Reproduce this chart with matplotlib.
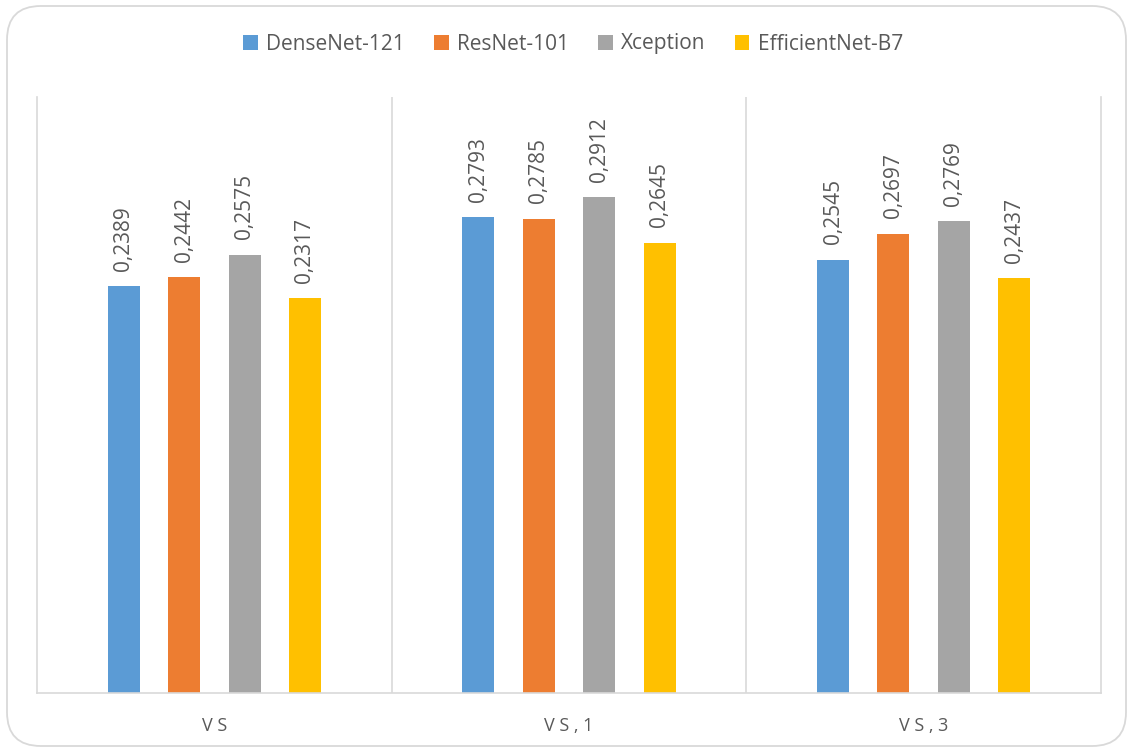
import matplotlib
matplotlib.use("Agg")
import matplotlib.pyplot as plt
import numpy as np
from matplotlib.patches import FancyBboxPatch, Patch

categories = ["V S", "V S , 1", "V S , 3"]
series_names = ["DenseNet-121", "ResNet-101", "Xception", "EfficientNet-B7"]
densenet = [0.2389, 0.2793, 0.2545]
resnet = [0.2442, 0.2785, 0.2697]
xception = [0.2575, 0.2912, 0.2769]
efficientnet = [0.2317, 0.2645, 0.2437]

colors = ["#5B9BD5", "#ED7D31", "#A5A5A5", "#FFC000"]
text_color = "#595959"
line_color = "#D9D9D9"

plt.rcParams["font.family"] = ["Open Sans", "DejaVu Sans"]

W, H = 1128, 749
fig = plt.figure(figsize=(W / 100, H / 100), dpi=100)

# rounded chart-area border
border = FancyBboxPatch((7 / W, 3 / H), (1126 - 7) / W, (743 - 3) / H,
                        boxstyle="round,pad=0,rounding_size=0.03",
                        transform=fig.transFigure, facecolor="none",
                        edgecolor="#D9D9D9", linewidth=1.3,
                        mutation_aspect=W / H, zorder=-1)
fig.patches.append(border)

ax = fig.add_axes([37 / W, (H - 693) / H, (1101 - 37) / W, (693 - 97) / H])
ax.set_facecolor("none")

x = np.arange(len(categories))
step = 0.1704
width = 0.090
all_series = [densenet, resnet, xception, efficientnet]
for i, (vals, col) in enumerate(zip(all_series, colors)):
    pos = x + (i - 1.5) * step
    bars = ax.bar(pos, vals, width=width, color=col, zorder=2)
    for b, v in zip(bars, vals):
        ax.annotate(f"{v:.4f}".replace(".", ","),
                    (b.get_x() + b.get_width() / 2, v),
                    xytext=(0, 11), textcoords="offset points",
                    rotation=90, ha="center", va="bottom",
                    fontsize=15, color=text_color)

ax.set_xlim(-0.5, len(categories) - 0.5)
ax.set_ylim(0, 0.35)
ax.set_yticks([])
ax.set_xticks(x)
ax.set_xticklabels(categories, fontsize=13, color=text_color)
ax.tick_params(axis="x", length=0, pad=17)

for s in ["left", "right", "bottom"]:
    ax.spines[s].set_color(line_color)
    ax.spines[s].set_linewidth(1.2)
ax.spines["top"].set_visible(False)
for sep in x[:-1] + 0.5:
    ax.axvline(sep, color=line_color, linewidth=1.2, zorder=1)

handles = [Patch(facecolor=c, edgecolor="none") for c in colors]
fig.legend(handles, series_names, loc="center", bbox_to_anchor=(573 / W, (H - 44) / H),
           ncol=4, frameon=False, fontsize=15, labelcolor=text_color,
           handlelength=0.7, handleheight=0.7, handletextpad=0.4,
           columnspacing=1.4)

fig.savefig("out.png", dpi=100)
